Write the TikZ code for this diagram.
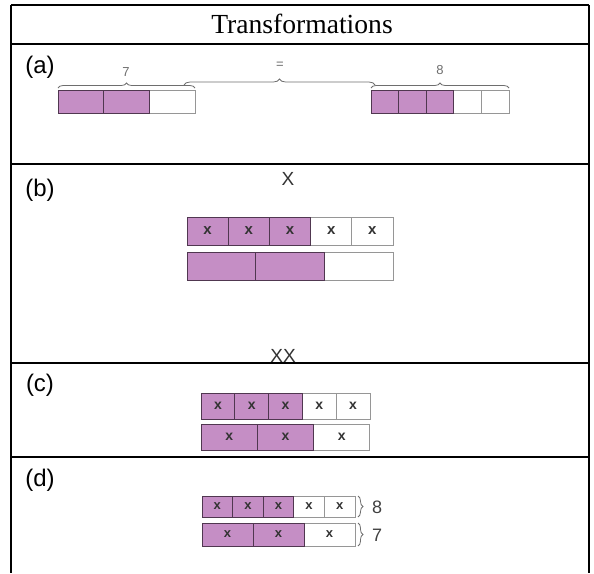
\documentclass[tikz,border=0pt]{standalone}
\usepackage{fontspec}
\setmainfont{Liberation Serif}
\newfontfamily\labelfont{Liberation Sans}
\usetikzlibrary{decorations.pathreplacing, calc}
\definecolor{BarPurple}{RGB}{197,142,197}
\definecolor{BarEdge}{RGB}{80,55,80}
\definecolor{BarGray}{RGB}{150,150,150}
\definecolor{BraceGray}{RGB}{110,110,110}

% one strip of cells: name, x0, top, cell width, height, cells, purple cells, mark
\newcommand{\cellrow}[8]{%
  \foreach \i in {1,...,#6} {%
    \ifnum\i>#7\relax
      \draw[cellw] ({#2+(\i-1)*#4},#3) rectangle ++(#4,#5);
    \fi
  }
  \foreach \i in {1,...,#6} {%
    \ifnum\i>#7\relax\else
      \draw[cellp] ({#2+(\i-1)*#4},#3) rectangle ++(#4,#5);
    \fi
    \def\cellmark{#8}%
    \ifx\cellmark\empty\else
      \node[markx] (#1\i) at ({#2+(\i-0.5)*#4},{#3+#5/2}) {#8};
    \fi
  }}

\begin{document}
\begin{tikzpicture}[x=0.5pt, y=-0.5pt,
    rule/.style={line width=1.1pt, black},
    cellp/.style={fill=BarPurple, draw=BarEdge, line width=0.5pt},
    cellw/.style={fill=white, draw=BarGray, line width=0.5pt},
    markx/.style={font=\labelfont\bfseries\fontsize{7.5}{8}\selectfont, text=black!80, inner sep=0pt},
    rowlabel/.style={font=\labelfont\fontsize{12}{14}\selectfont, inner sep=0pt},
    bigx/.style={font=\labelfont\fontsize{9.5}{11}\selectfont, text=black!80, inner sep=0pt},
    bracelbl/.style={font=\labelfont\fontsize{6.5}{8}\selectfont, text=BraceGray, inner sep=0pt},
    bracer/.style={decorate, draw=BraceGray, line width=0.4pt}]
  \useasboundingbox (0,0) rectangle (594,573);

  % table rules
  \draw[rule] (11,5) -- (11,573);
  \draw[rule] (589,5) -- (589,573);
  \foreach \y in {5,44,164,363,457}
    \draw[rule] (11,\y) -- (589,\y);

  \node[font=\fontsize{13.8}{16}\selectfont] (title) at (302,24) {Transformations};

  % (a)
  \node[rowlabel] (lbla) at (40,67) {(a)};
  \cellrow{al}{58}{90}{45.67}{23}{3}{2}{}
  \cellrow{ar}{371}{90}{27.6}{23}{5}{3}{}
  \draw[bracer, decoration={brace, amplitude=2.5pt}] (58,88) -- (195,88);
  \draw[bracer, decoration={brace, amplitude=2.5pt}] (371,88) -- (509,88);
  \draw[bracer, decoration={brace, amplitude=3pt}] (184,85) -- (375,85);
  \node[bracelbl] (seven) at (126,72) {7};
  \node[bracelbl] (equal) at (280,65) {=};
  \node[bracelbl] (eight) at (440,70) {8};

  % (b)
  \node[rowlabel] (lblb) at (40,190) {(b)};
  \node[bigx] (xone) at (288,179) {X};
  \cellrow{bt}{187}{217}{41.2}{28}{5}{3}{x}
  \cellrow{bb}{187}{252}{68.67}{28}{3}{2}{}
  \node[bigx] (xtwo) at (283,356) {XX};

  % (c)
  \node[rowlabel] (lblc) at (40,385) {(c)};
  \begin{scope}[markx/.append style={font=\labelfont\bfseries\fontsize{7}{8}\selectfont}]
    \cellrow{ct}{201}{393}{33.8}{26}{5}{3}{x}
    \cellrow{cb}{201}{424}{56.33}{26}{3}{2}{x}
  \end{scope}

  % (d)
  \node[rowlabel] (lbld) at (40,480) {(d)};
  \begin{scope}[markx/.append style={font=\labelfont\bfseries\fontsize{6.5}{8}\selectfont}]
    \cellrow{dt}{202}{496}{30.6}{21}{5}{3}{x}
    \cellrow{db}{202}{523}{51}{23}{3}{2}{x}
  \end{scope}
  \draw[bracer, decoration={brace, amplitude=2.5pt}] (358,496) -- (358,517);
  \draw[bracer, decoration={brace, amplitude=2.5pt}] (358,523) -- (358,546);
  \node[bracelbl, font=\labelfont\fontsize{9}{10}\selectfont, text=black!75] (deight) at (377,507) {8};
  \node[bracelbl, font=\labelfont\fontsize{9}{10}\selectfont, text=black!75] (dseven) at (377,535) {7};
\end{tikzpicture}
\end{document}
